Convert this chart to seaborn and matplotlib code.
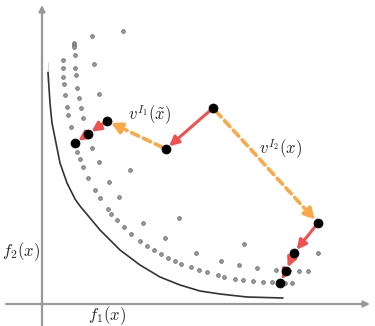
import numpy as np
import pandas as pd
import seaborn as sns
import matplotlib
matplotlib.use('Agg')
import matplotlib.pyplot as plt

# objective values of the gray sample points
dots_f1 = [8.1, 5.0, 3.2, 3.2, 3.2, 3.3, 2.1, 5.2, 2.1, 3.3, 3.4, 2.1, 2.2, 3.5, 5.7, 2.3,
           3.7, 2.5, 3.9, 2.6, 4.1, 2.9, 5.0, 3.5, 3.8, 5.7, 4.1, 8.8, 4.6, 6.7, 5.3, 5.8,
           7.7, 6.6, 6.9, 7.5, 10.1, 13.7, 8.2, 8.9, 12.3, 9.8, 10.5, 11.2, 11.9, 12.6,
           13.3, 13.9, 15.4, 14.9, 15.7, 20.2, 16.5, 17.9, 17.6, 18.2, 19.7, 19.3, 20.1,
           21.5, 21.1, 22.1, 23.0, 23.4, 24.3, 25.0, 25.7, 26.6, 27.6]
dots_f2 = [27.3, 26.8, 26.1, 25.9, 25.7, 24.9, 24.4, 24.0, 23.6, 23.6, 22.9, 22.7, 22.0,
           21.6, 21.0, 20.9, 20.6, 19.7, 19.6, 18.9, 18.6, 17.7, 15.6, 15.2, 14.5, 14.2,
           13.7, 13.4, 12.6, 12.2, 11.4, 10.6, 10.7, 9.5, 9.0, 8.4, 8.1, 8.6, 7.7, 7.0,
           6.6, 6.3, 5.8, 5.4, 5.0, 4.6, 4.3, 4.0, 5.1, 3.7, 3.4, 6.0, 3.2, 4.3, 2.9, 2.7,
           3.9, 2.5, 2.4, 3.6, 2.3, 2.2, 2.2, 3.4, 2.1, 2.1, 3.3, 3.3, 5.1]

# pareto front
front_f1 = [0.6, 0.6, 0.8, 1.0, 1.4, 1.8, 2.5, 3.3, 3.8, 4.8, 5.8, 7.8, 9.8, 11.8, 13.8,
            15.8, 17.8, 20.5, 24.1]
front_f2 = [24.2, 22.1, 20.1, 18.1, 16.1, 14.1, 12.1, 10.5, 9.8, 8.6, 7.4, 5.4, 3.9, 2.7,
            1.9, 1.3, 1.0, 0.7, 0.6]

# iterates (black points): E start, D/A/B/C first branch, F/G/H/I second branch
pts_name = ['E', 'D', 'A', 'B', 'C', 'F', 'G', 'H', 'I']
pts_f1 = [17.1, 12.4, 6.5, 4.6, 3.3, 27.6, 25.2, 24.4, 23.8]
pts_f2 = [19.6, 15.5, 18.3, 17.0, 16.1, 8.1, 5.1, 3.3, 2.1]

# steps between iterates
red_steps = [('E', 'D'), ('A', 'B'), ('B', 'C'), ('F', 'G'), ('G', 'H'), ('H', 'I')]
orange_steps = [('D', 'A'), ('E', 'F')]

sns.set_style('white')
plt.rcParams['mathtext.fontset'] = 'cm'

fig = plt.figure(figsize=(3.75, 3.26), dpi=100)
ax = fig.add_axes([0, 0, 1, 1])
ax.set_xlim(-4.2, 33.3)
ax.set_ylim(-2.2, 30.4)
ax.axis('off')

# coordinate axes
ax.annotate('', xy=(32.8, 0), xytext=(-3.6, 0),
            arrowprops=dict(arrowstyle='-|>', color='#999999', lw=1.6, mutation_scale=9,
                            shrinkA=0, shrinkB=0))
ax.annotate('', xy=(0, 29.9), xytext=(0, -2.2),
            arrowprops=dict(arrowstyle='-|>', color='#999999', lw=1.6, mutation_scale=9,
                            shrinkA=0, shrinkB=0))

front = pd.DataFrame({'f1': front_f1, 'f2': front_f2})
sns.lineplot(data=front, x='f1', y='f2', sort=False, color='#333333', lw=1.2, ax=ax)

dots = pd.DataFrame({'f1': dots_f1, 'f2': dots_f2})
sns.scatterplot(data=dots, x='f1', y='f2', s=7, color='#a0a0a0', edgecolor='#6a6a6a',
                linewidth=0.6, ax=ax, zorder=3)

pts = pd.DataFrame({'f1': pts_f1, 'f2': pts_f2}, index=pts_name)

for a, b in orange_steps:
    ax.annotate('', xy=pts.loc[b], xytext=pts.loc[a],
                arrowprops=dict(arrowstyle='-|>', color='#fba847', lw=2.6, ls=(0, (2.2, 1.4)),
                                mutation_scale=16, shrinkA=3, shrinkB=3), zorder=4)
for a, b in red_steps:
    ax.annotate('', xy=pts.loc[b], xytext=pts.loc[a],
                arrowprops=dict(arrowstyle='-|>', color='#f24f4f', lw=2.2,
                                mutation_scale=14, shrinkA=3, shrinkB=3), zorder=4)

sns.scatterplot(data=pts, x='f1', y='f2', s=42, color='black', edgecolor='black', ax=ax,
                zorder=5)

ax.set_xlabel('')
ax.set_ylabel('')

ax.text(-2.1, 5.2, r'$f_2(x)$', fontsize=12, ha='center', va='center')
ax.text(6.5, -1.2, r'$f_1(x)$', fontsize=12, ha='center', va='center')
ax.text(10.8, 18.9, r'$v^{I_1}(\tilde{x})$', fontsize=12, ha='center', va='center')
ax.text(23.9, 15.5, r'$v^{I_2}(x)$', fontsize=12, ha='center', va='center')

plt.savefig('out.png', dpi=100)
